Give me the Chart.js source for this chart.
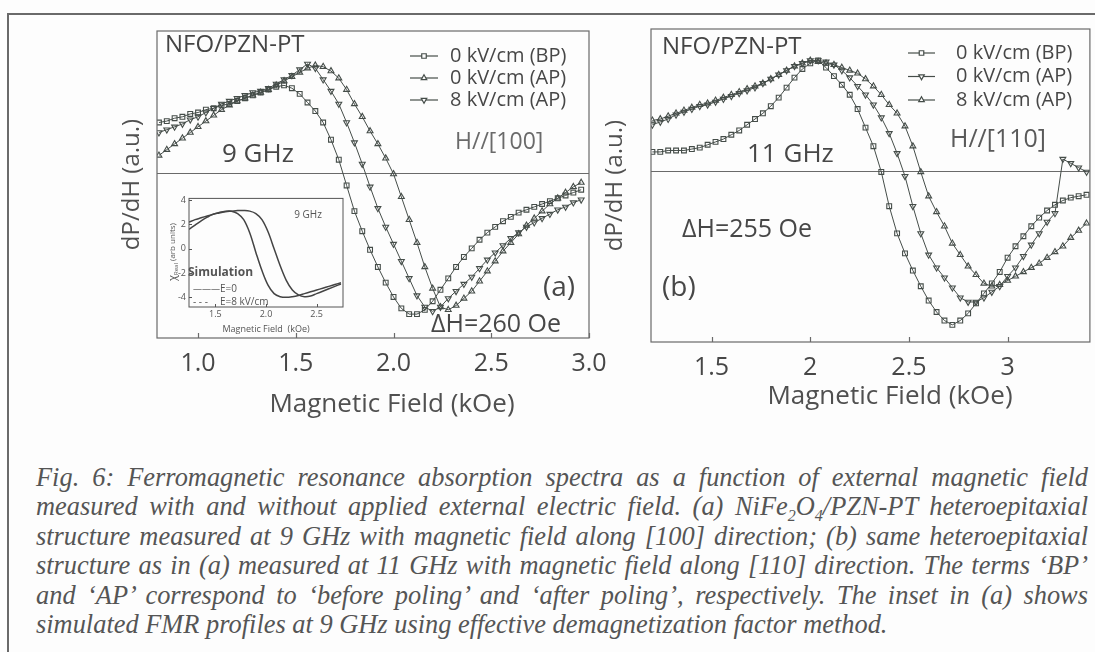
<!DOCTYPE html>
<html>
<head>
<meta charset="utf-8">
<script src="https://cdn.jsdelivr.net/npm/chart.js@4.4.0/dist/chart.umd.min.js"></script>
<style>
  html, body { margin: 0; padding: 0; background: #fdfdfd; }
  #folha { position: relative; width: 1095px; height: 652px; overflow: hidden; }
  #borda { position: absolute; left: 7px; top: 13px; width: 1200px; height: 700px;
           border-top: 2px solid #6a6a6a; border-left: 2px solid #6a6a6a; }
  canvas { position: absolute; }
  #legenda-fig { position: absolute; left: 36px; top: 463px; width: 1052px;
                 font: italic 26.4px "Liberation Serif", "Times New Roman", serif;
                 line-height: 29.4px; color: #555; }
  #legenda-fig div { white-space: nowrap; text-align: justify; text-align-last: justify; }
  #legenda-fig div.ultima { text-align: left; text-align-last: left; }
  sub { font-size: 16px; line-height: 0; }
</style>
</head>
<body>
<div id="folha">
  <div id="borda"></div>
  <canvas id="graficoA" width="620" height="430" style="left:0;top:0"></canvas>
  <canvas id="graficoB" width="505" height="430" style="left:590px;top:0"></canvas>
  <canvas id="graficoInset" width="200" height="145" style="left:150px;top:190px"></canvas>
  <div id="legenda-fig">
    <div>Fig. 6: Ferromagnetic resonance absorption spectra as a function of external magnetic field</div>
    <div>measured with and without applied external electric field. (a) NiFe<sub>2</sub>O<sub>4</sub>/PZN-PT heteroepitaxial</div>
    <div>structure measured at 9 GHz with magnetic field along [100] direction; (b) same heteroepitaxial</div>
    <div>structure as in (a) measured at 11 GHz with magnetic field along [110] direction. The terms ‘BP’</div>
    <div>and ‘AP’ correspond to ‘before poling’ and ‘after poling’, respectively. The inset in (a) shows</div>
    <div class="ultima">simulated FMR profiles at 9 GHz using effective demagnetization factor method.</div>
  </div>
</div>
<script>
// ---- dados do painel (a): 9 GHz, H//[100] ----
const campoA = [0.80,0.84,0.88,0.92,0.96,1.00,1.04,1.08,1.12,1.16,1.20,1.24,1.28,1.32,1.36,1.40,1.44,1.48,1.52,1.56,
  1.60,1.64,1.68,1.72,1.76,1.80,1.84,1.88,1.92,1.96,2.00,2.04,2.08,2.12,2.16,2.20,2.24,2.28,2.32,2.36,
  2.40,2.44,2.48,2.52,2.56,2.60,2.64,2.68,2.72,2.76,2.80,2.84,2.88,2.92,2.96];
const bpA = [0.36,0.37,0.39,0.40,0.42,0.43,0.45,0.46,0.48,0.49,0.51,0.53,0.55,0.57,0.59,0.61,0.62,0.60,0.56,0.50,
  0.44,0.36,0.24,0.10,-0.08,-0.26,-0.40,-0.53,-0.65,-0.76,-0.86,-0.94,-0.98,-0.98,-0.95,-0.89,-0.81,-0.73,-0.65,-0.58,
  -0.52,-0.46,-0.41,-0.37,-0.33,-0.30,-0.27,-0.25,-0.23,-0.21,-0.19,-0.17,-0.15,-0.13,-0.11];
const ap0A = [0.13,0.17,0.21,0.25,0.29,0.33,0.37,0.41,0.45,0.48,0.51,0.53,0.55,0.57,0.59,0.62,0.65,0.68,0.71,0.74,
  0.76,0.75,0.72,0.67,0.59,0.49,0.40,0.30,0.21,0.11,0.00,-0.16,-0.32,-0.48,-0.65,-0.80,-0.93,-0.95,-0.92,-0.87,
  -0.82,-0.75,-0.68,-0.61,-0.54,-0.48,-0.42,-0.36,-0.31,-0.26,-0.21,-0.17,-0.13,-0.09,-0.06];
const ap8A = [0.29,0.31,0.33,0.35,0.38,0.40,0.43,0.46,0.49,0.51,0.53,0.55,0.57,0.58,0.60,0.63,0.66,0.69,0.73,0.77,
  0.74,0.66,0.58,0.49,0.36,0.22,0.07,-0.09,-0.24,-0.37,-0.49,-0.61,-0.73,-0.85,-0.93,-0.96,-0.93,-0.87,-0.82,-0.77,
  -0.72,-0.66,-0.60,-0.55,-0.50,-0.45,-0.41,-0.37,-0.34,-0.31,-0.28,-0.25,-0.23,-0.20,-0.18];
const ticksA = [1.0, 1.5, 2.0, 2.5, 3.0];
const rotulosA = ['1.0', '1.5', '2.0', '2.5', '3.0'];

// ---- dados do painel (b): 11 GHz, H//[110] ----
const campoB = [1.20,1.24,1.28,1.32,1.36,1.40,1.44,1.48,1.52,1.56,1.60,1.64,1.68,1.72,1.76,1.80,1.84,1.88,1.92,1.96,
  2.00,2.04,2.08,2.12,2.16,2.20,2.24,2.28,2.32,2.36,2.40,2.44,2.48,2.52,2.56,2.60,2.64,2.68,2.72,2.76,
  2.80,2.84,2.88,2.92,2.96,3.00,3.04,3.08,3.12,3.16,3.20,3.24,3.28,3.32,3.36,3.40];
const bpB = [0.14,0.14,0.15,0.15,0.15,0.16,0.17,0.19,0.21,0.23,0.26,0.29,0.33,0.37,0.41,0.46,0.52,0.59,0.66,0.72,
  0.76,0.78,0.73,0.67,0.61,0.54,0.44,0.31,0.18,0.00,-0.24,-0.43,-0.57,-0.69,-0.80,-0.90,-0.98,-1.04,-1.07,-1.04,
  -0.99,-0.92,-0.85,-0.78,-0.70,-0.60,-0.52,-0.45,-0.38,-0.32,-0.27,-0.23,-0.20,-0.18,-0.17,-0.16];
const ap0B = [0.33,0.35,0.37,0.40,0.42,0.44,0.46,0.47,0.49,0.51,0.53,0.55,0.57,0.59,0.62,0.65,0.68,0.71,0.74,0.76,
  0.78,0.78,0.77,0.75,0.71,0.66,0.60,0.54,0.47,0.38,0.27,0.13,-0.03,-0.24,-0.43,-0.58,-0.67,-0.74,-0.81,-0.88,
  -0.91,-0.91,-0.88,-0.84,-0.80,-0.73,-0.67,-0.59,-0.51,-0.43,-0.35,-0.29,0.09,0.06,0.03,0.00];
const ap8B = [0.36,0.37,0.39,0.41,0.43,0.45,0.47,0.48,0.50,0.52,0.54,0.56,0.58,0.60,0.62,0.65,0.68,0.71,0.74,0.76,
  0.78,0.77,0.76,0.75,0.73,0.71,0.69,0.65,0.60,0.54,0.47,0.41,0.32,0.18,0.00,-0.17,-0.28,-0.38,-0.50,-0.58,
  -0.66,-0.72,-0.78,-0.80,-0.79,-0.76,-0.73,-0.70,-0.67,-0.64,-0.60,-0.56,-0.52,-0.46,-0.41,-0.36];
const ticksB = [1.5, 2, 2.5, 3];
const rotulosB = ['1.5', '2', '2.5', '3'];

// ---- inset: simulação a 9 GHz ----
const campoSim = [1.24,1.30,1.36,1.42,1.48,1.54,1.60,1.66,1.72,1.78,1.84,1.90,1.96,2.02,2.08,2.14,2.20,2.26,2.32,2.38,2.44,2.50,2.56,2.62,2.68,2.74];
const simE0 = [1.6,1.95,2.3,2.6,2.85,3.0,3.1,3.1,2.9,2.4,1.3,-0.3,-1.8,-3.0,-3.7,-3.95,-4.0,-3.95,-3.85,-3.7,-3.55,-3.4,-3.25,-3.1,-2.95,-2.8];
const simE8 = [2.2,2.4,2.55,2.7,2.85,2.95,3.05,3.1,3.15,3.15,3.1,2.9,2.4,1.4,0.0,-1.4,-2.6,-3.4,-3.8,-3.95,-3.9,-3.7,-3.5,-3.3,-3.1,-2.9];
const ticksSimX = [1.5, 2.0, 2.5];
const rotulosSimX = ['1.5', '2.0', '2.5'];
const ticksSimY = [-4, -2, 0, 2, 4];

const COR_CURVA = '#454d49';
const COR_TEXTO = '#474747';
const FONTE = "'Open Sans', 'Noto Sans', sans-serif";

Chart.defaults.font.family = FONTE;
Chart.defaults.color = COR_TEXTO;

function pontos(xs, ys) {
  return xs.map((x, i) => ({ x: x, y: ys[i] }));
}

function serie(label, xs, ys, estilo, rotacao) {
  return {
    label: label,
    data: pontos(xs, ys),
    showLine: true,
    borderColor: COR_CURVA,
    borderWidth: 1,
    pointStyle: estilo,
    pointRotation: rotacao,
    pointRadius: 3.4,
    pointBorderWidth: 1.1,
    pointBorderColor: COR_CURVA,
    pointBackgroundColor: 'rgba(0,0,0,0)',
    tension: 0
  };
}

// moldura, marcas internas, textos e legenda desenhados sobre o gráfico
const moldura = {
  id: 'moldura',
  afterDatasetsDraw(chart, args, opts) {
    const { ctx, chartArea: a, scales } = chart;
    ctx.save();
    ctx.strokeStyle = opts.cor || '#6a6a6a';
    ctx.lineWidth = opts.espessura || 1.2;
    ctx.strokeRect(a.left, a.top, a.right - a.left, a.bottom - a.top);
    const tl = opts.marca || 0;
    if (tl) {
      ctx.beginPath();
      scales.x.ticks.forEach(t => {
        const px = Math.round(scales.x.getPixelForValue(t.value)) + 0.5;
        ctx.moveTo(px, a.bottom);
        ctx.lineTo(px, a.bottom - tl);
      });
      if (opts.marcaY) {
        scales.y.ticks.forEach(t => {
          const py = Math.round(scales.y.getPixelForValue(t.value)) + 0.5;
          ctx.moveTo(a.left, py);
          ctx.lineTo(a.left + tl, py);
        });
      }
      ctx.stroke();
    }
    (opts.textos || []).forEach(t => {
      ctx.font = (t.peso || 'normal') + ' ' + t.tam + 'px ' + (t.familia || FONTE);
      ctx.fillStyle = t.cor || COR_TEXTO;
      ctx.textAlign = t.alinha || 'left';
      ctx.textBaseline = 'middle';
      ctx.fillText(t.txt, t.x, t.y);
    });
    const L = opts.legenda;
    if (L) {
      chart.data.datasets.forEach((ds, i) => {
        const y = L.y + i * L.passo;
        ctx.strokeStyle = ds.borderColor;
        ctx.lineWidth = 1.2;
        ctx.beginPath();
        ctx.moveTo(L.x0, y);
        ctx.lineTo(L.x1, y);
        ctx.stroke();
        ctx.fillStyle = '#fdfdfd';
        Chart.helpers.drawPoint(ctx, { pointStyle: ds.pointStyle, rotation: ds.pointRotation, radius: 3.2, borderWidth: 1 }, (L.x0 + L.x1) / 2, y);
        ctx.font = L.tam + 'px ' + FONTE;
        ctx.fillStyle = COR_TEXTO;
        ctx.textAlign = 'left';
        ctx.textBaseline = 'middle';
        ctx.fillText(ds.label, L.xt, y);
      });
    }
    ctx.restore();
  }
};
Chart.register(moldura);

function opcoesPainel(cfg) {
  return {
    responsive: false,
    animation: false,
    devicePixelRatio: 1,
    layout: { padding: cfg.padding },
    plugins: { legend: { display: false }, tooltip: { enabled: false }, moldura: cfg.moldura },
    scales: {
      x: {
        type: 'linear', min: cfg.xmin, max: cfg.xmax,
        grid: { display: false, drawTicks: false },
        border: { display: false },
        afterBuildTicks: s => { s.ticks = cfg.ticks.map(v => ({ value: v })); },
        afterFit: s => { s.height = cfg.alturaX; },
        ticks: { callback: (v, i) => cfg.rotulos[i], font: { size: 25 }, padding: 11, maxRotation: 0, autoSkip: false, color: COR_TEXTO }
      },
      y: {
        type: 'linear', min: cfg.ymin, max: 1.0,
        grid: { display: true, drawTicks: false, color: '#6a6a6a', lineWidth: 1 },
        border: { display: false },
        afterBuildTicks: s => { s.ticks = [{ value: 0 }]; },
        afterFit: s => { s.width = cfg.larguraY; },
        ticks: { display: false },
        title: { display: true, text: 'dP/dH (a.u.)', font: { size: 24, lineHeight: 1 }, padding: 0, color: '#505050' }
      }
    }
  };
}

new Chart(document.getElementById('graficoA'), {
  type: 'scatter',
  data: {
    datasets: [
      serie('0 kV/cm (BP)', campoA, bpA, 'rect', 0),
      serie('0 kV/cm (AP)', campoA, ap0A, 'triangle', 0),
      serie('8 kV/cm (AP)', campoA, ap8A, 'triangle', 180)
    ]
  },
  options: opcoesPainel({
    padding: { left: 120, top: 31, right: 31, bottom: 0 },
    xmin: 0.79, xmax: 3.0, ymin: -1.147,
    ticks: ticksA, rotulos: rotulosA, alturaX: 92, larguraY: 37,
    moldura: {
      marca: 5,
      legenda: { x0: 410, x1: 438, xt: 450, y: 56, passo: 22, tam: 20 },
      textos: [
        { txt: 'NFO/PZN-PT', x: 165, y: 45, tam: 24, cor: '#444' },
        { txt: '9 GHz', x: 222, y: 155, tam: 26 },
        { txt: 'H//[100]', x: 455, y: 142, tam: 23, cor: '#6a6a6a' },
        { txt: '(a)', x: 543, y: 288, tam: 28 },
        { txt: 'ΔH=260 Oe', x: 431, y: 325, tam: 25 },
        { txt: 'Magnetic Field (kOe)', x: 392, y: 405, tam: 26, alinha: 'center', cor: '#505050' }
      ]
    }
  })
});

new Chart(document.getElementById('graficoB'), {
  type: 'scatter',
  data: {
    datasets: [
      serie('0 kV/cm (BP)', campoB, bpB, 'rect', 0),
      serie('0 kV/cm (AP)', campoB, ap0B, 'triangle', 180),
      serie('8 kV/cm (AP)', campoB, ap8B, 'triangle', 0)
    ]
  },
  options: opcoesPainel({
    padding: { left: 13, top: 29, right: 2, bottom: 0 },
    xmin: 1.193, xmax: 3.417, ymin: -1.19,
    ticks: ticksB, rotulos: rotulosB, alturaX: 88, larguraY: 48,
    moldura: {
      marca: 5,
      legenda: { x0: 318, x1: 345, xt: 366, y: 53, passo: 23.5, tam: 20 },
      textos: [
        { txt: 'NFO/PZN-PT', x: 72, y: 47, tam: 24, cor: '#444' },
        { txt: '11 GHz', x: 157, y: 155, tam: 26 },
        { txt: 'H//[110]', x: 360, y: 140, tam: 25, cor: '#5a5a5a' },
        { txt: 'ΔH=255 Oe', x: 92, y: 230, tam: 25 },
        { txt: '(b)', x: 72, y: 288, tam: 28 },
        { txt: 'Magnetic Field (kOe)', x: 300, y: 397, tam: 26, alinha: 'center', cor: '#505050' }
      ]
    }
  })
});

// rótulo do eixo y do inset com subscrito
const tituloInset = {
  id: 'tituloInset',
  afterDraw(chart) {
    const ctx = chart.ctx;
    ctx.save();
    ctx.translate(23, 62);
    ctx.rotate(-Math.PI / 2);
    ctx.fillStyle = '#555';
    ctx.textBaseline = 'middle';
    ctx.textAlign = 'left';
    const partes = [['χ', '11px', 0], ['Real', '6px', 3], [' (arb units)', '8px', 0]];
    let total = 0;
    partes.forEach(p => { ctx.font = p[1] + ' ' + FONTE; total += ctx.measureText(p[0]).width; });
    let x = -total / 2;
    partes.forEach(p => {
      ctx.font = p[1] + ' ' + FONTE;
      ctx.fillText(p[0], x, p[2]);
      x += ctx.measureText(p[0]).width;
    });
    ctx.restore();
  }
};

new Chart(document.getElementById('graficoInset'), {
  type: 'scatter',
  data: {
    datasets: [
      { label: 'E=0', data: pontos(campoSim, simE0), showLine: true, borderColor: '#444', borderWidth: 1.5, pointRadius: 0, tension: 0.35 },
      { label: 'E=8 kV/cm', data: pontos(campoSim, simE8), showLine: true, borderColor: '#444', borderWidth: 1.5, pointRadius: 0, tension: 0.35 }
    ]
  },
  options: {
    responsive: false,
    animation: false,
    devicePixelRatio: 1,
    layout: { padding: { left: 0, top: 8, right: 7, bottom: 0 } },
    plugins: {
      legend: { display: false }, tooltip: { enabled: false },
      moldura: {
        marca: 3, marcaY: true, cor: '#555', espessura: 1,
        textos: [
          { txt: '9 GHz', x: 158, y: 25, tam: 10, alinha: 'center', cor: '#555' },
          { txt: 'Simulation', x: 38, y: 83, tam: 12, peso: 'bold', cor: '#555' },
          { txt: '———', x: 43, y: 99, tam: 9, cor: '#555' },
          { txt: 'E=0', x: 70, y: 99, tam: 10, cor: '#555' },
          { txt: '- - -', x: 43, y: 112, tam: 10, cor: '#555' },
          { txt: 'E=8 kV/cm', x: 70, y: 112, tam: 10, cor: '#555' },
          { txt: 'Magnetic Field  (kOe)', x: 116, y: 139, tam: 9, alinha: 'center', cor: '#555' }
        ]
      }
    },
    scales: {
      x: {
        type: 'linear', min: 1.24, max: 2.76,
        grid: { display: false, drawTicks: false }, border: { display: false },
        afterBuildTicks: s => { s.ticks = ticksSimX.map(v => ({ value: v })); },
        afterFit: s => { s.height = 28; },
        ticks: { callback: (v, i) => rotulosSimX[i], font: { size: 9 }, padding: 2, maxRotation: 0, color: '#555' }
      },
      y: {
        type: 'linear', min: -4.8, max: 4.15,
        grid: { display: false, drawTicks: false }, border: { display: false },
        afterBuildTicks: s => { s.ticks = ticksSimY.map(v => ({ value: v })); },
        afterFit: s => { s.width = 39; },
        ticks: { font: { size: 9 }, padding: 3, color: '#555' }
      }
    }
  },
  plugins: [tituloInset]
});
</script>
</body>
</html>
